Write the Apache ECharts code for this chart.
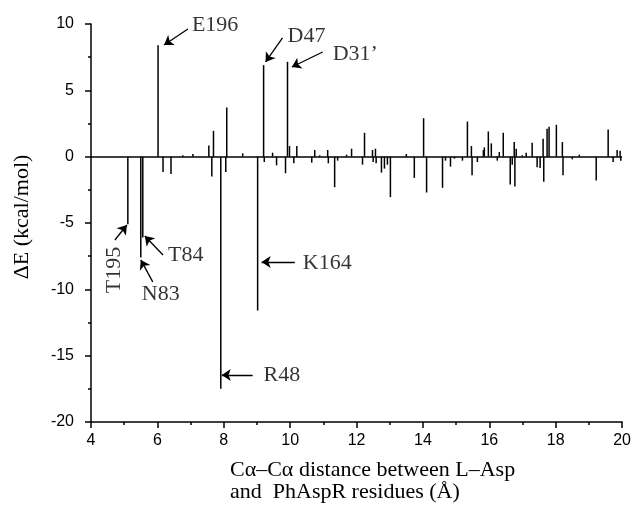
<!DOCTYPE html>
<html>
<head>
<meta charset="utf-8">
<script src="https://cdn.jsdelivr.net/npm/echarts@6/dist/echarts.min.js"></script>
<style>
  html, body { margin: 0; padding: 0; background: #fff; }
  #main { width: 634px; height: 507px; }
</style>
</head>
<body>
<div id="main"></div>
<script>
// Cα–Cα distance (Å) of each residue and its interaction energy (kcal/mol)
var distances = [
  5.11, 5.50, 5.56, 6.02, 6.17, 6.41, 6.77, 7.07, 7.55, 7.64,
  7.69, 7.91, 8.06, 8.09, 8.57, 9.02, 9.20, 9.22, 9.47, 9.59,
  9.86, 9.92, 9.98, 10.11, 10.20, 10.65, 10.74, 10.89, 11.13, 11.15,
  11.34, 11.43, 11.70, 11.85, 12.18, 12.24, 12.48, 12.50, 12.57, 12.59,
  12.75, 12.84, 12.93, 13.02, 13.50, 13.74, 14.02, 14.11, 14.59, 14.68,
  14.83, 14.95, 15.19, 15.34, 15.46, 15.48, 15.64, 15.82, 15.85, 15.97,
  16.06, 16.24, 16.30, 16.42, 16.63, 16.69, 16.75, 16.77, 16.81, 16.99,
  17.11, 17.29, 17.44, 17.53, 17.62, 17.64, 17.74, 17.80, 18.02, 18.20,
  18.22, 18.50, 18.71, 19.22, 19.58, 19.73, 19.85, 19.94, 19.96
];
var energies = [
  -5.1, -7.6, -6.1, 8.4, -1.15, -1.3, 0.1, 0.2, 0.85, -1.5,
  1.95, -17.5, -1.15, 3.7, 0.25, -11.6, 6.9, -0.4, 0.3, -0.65,
  -1.25, 7.15, 0.8, -0.5, 0.8, -0.45, 0.5, 0.1, 0.5, -0.5,
  -2.3, -0.3, 0.15, 0.6, -0.6, 1.8, 0.5, -0.4, 0.6, -0.5,
  -1.2, -0.9, -0.6, -3.05, 0.2, -1.6, 2.9, -2.7, -2.35, -0.3,
  -0.75, -0.15, -0.3, 2.65, 0.8, -1.4, -0.4, 0.5, 0.7, 1.9,
  1.0, -0.3, 0.35, 1.8, -2.1, -0.6, 1.1, -2.25, 0.6, 0.1,
  0.3, 1.05, -0.8, -0.85, 1.35, -1.9, 2.1, 2.25, 2.4, 1.1,
  -1.4, -0.2, 0.15, -1.8, 2.05, -0.4, 0.5, 0.45, -0.3
];

// labelled residues: label anchor and arrow (tail -> head), in data units
var annoNames  = ['E196', 'D47', 'D31\u2019', 'T84', 'N83', 'K164', 'R48', 'T195'];
var annoLabel  = [[7.04, 9.89], [9.92, 9.06], [11.28, 7.70], [6.32, -7.45],
                  [5.53, -10.38], [10.38, -8.01], [9.20, -16.45], [4.69, -8.54]];
var arrowTail  = [[6.92, 9.62], [9.77, 8.95], [10.98, 7.89], [6.17, -7.41],
                  [5.86, -9.44], [10.14, -7.94], [8.87, -16.45], [4.72, -6.28]];
var arrowHead  = [[6.20, 8.42], [9.26, 7.14], [10.05, 6.76], [5.62, -5.98],
                  [5.50, -7.78], [9.14, -7.94], [7.94, -16.45], [5.08, -5.15]];

var myChart = echarts.init(document.getElementById('main'));

var serif = 'Liberation Serif';
var sans = 'Liberation Sans';

var labelData = annoNames.map(function (n, i) {
  var item = { value: [annoLabel[i][0], annoLabel[i][1], n] };
  if (n === 'T195') {
    item.label = { position: 'inside', rotate: 90 };
  }
  return item;
});

myChart.setOption({
  animation: false,
  grid: { left: 91, right: 11, top: 24, bottom: 85, containLabel: false },
  xAxis: {
    type: 'value',
    min: 4, max: 20, interval: 2,
    axisLine: { show: true, onZero: false, lineStyle: { color: '#000', width: 1.5 } },
    axisTick: { show: true, inside: false, length: 6, lineStyle: { color: '#000', width: 1.5 } },
    minorTick: { show: true, splitNumber: 2, length: 3, lineStyle: { color: '#000', width: 1.5 } },
    splitLine: { show: false },
    axisLabel: { color: '#000', fontFamily: sans, fontSize: 16, margin: 11 }
  },
  yAxis: {
    type: 'value',
    min: -20, max: 10, interval: 5,
    name: '\u0394E (kcal/mol)',
    nameLocation: 'middle',
    nameGap: 58,
    nameTextStyle: { color: '#000', fontFamily: serif, fontSize: 22, padding: [0, 0, 0, 12] },
    axisLine: { show: true, lineStyle: { color: '#000', width: 1.5 } },
    axisTick: { show: true, inside: false, length: 6, lineStyle: { color: '#000', width: 1.5 } },
    minorTick: { show: true, splitNumber: 2, length: 3, lineStyle: { color: '#000', width: 1.5 } },
    splitLine: { show: false },
    axisLabel: { color: '#000', fontFamily: sans, fontSize: 16, margin: 17 }
  },
  graphic: [{
    type: 'text',
    left: 230,
    top: 459,
    style: {
      text: 'C\u03b1\u2013C\u03b1 distance between L\u2013Asp\nand  PhAspR residues (\u00c5)',
      font: '22px "Liberation Serif"',
      lineHeight: 22,
      fill: '#000'
    }
  }],
  series: [
    {
      type: 'bar',
      barWidth: 1.5,
      itemStyle: { color: '#000' },
      data: distances.map(function (d, i) { return [d, energies[i]]; }),
      markLine: {
        silent: true,
        symbol: 'none',
        label: { show: false },
        lineStyle: { color: '#000', width: 1.5, type: 'solid' },
        data: [{ yAxis: 0 }]
      }
    },
    {
      type: 'lines',
      coordinateSystem: 'cartesian2d',
      silent: true,
      symbol: ['none', 'arrow'],
      symbolSize: 9,
      lineStyle: { color: '#000', width: 1.3, opacity: 1, curveness: 0 },
      data: arrowTail.map(function (t, i) { return { coords: [t, arrowHead[i]] }; })
    },
    {
      type: 'scatter',
      symbolSize: 0,
      clip: false,
      silent: true,
      label: {
        show: true,
        position: 'right',
        distance: 0,
        color: '#000',
        fontFamily: serif,
        fontSize: 22,
        formatter: function (p) { return p.value[2]; }
      },
      data: labelData
    }
  ]
});
</script>
</body>
</html>
